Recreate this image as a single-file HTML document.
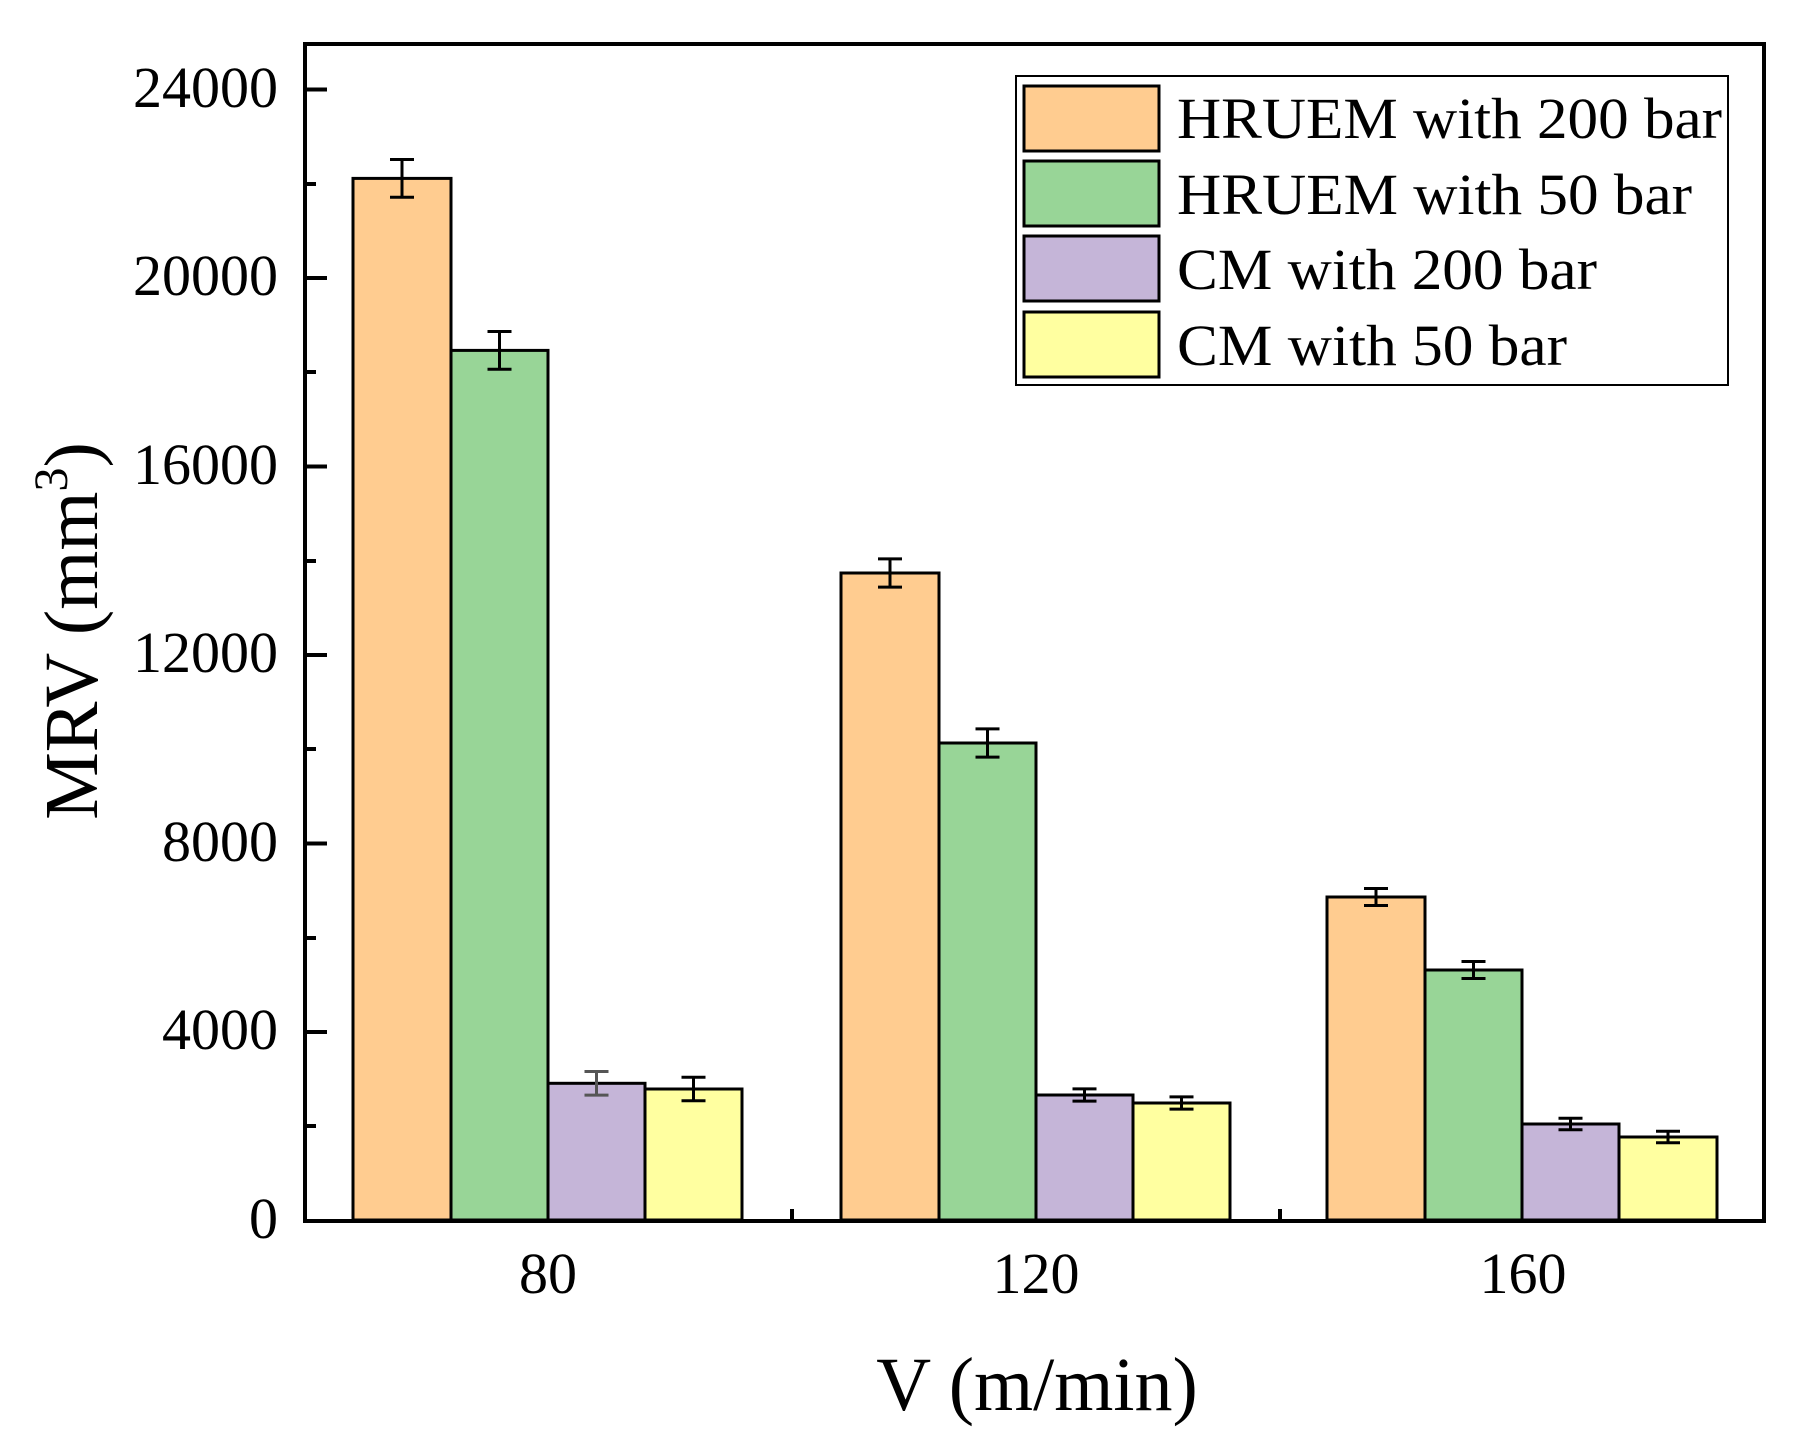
<!DOCTYPE html>
<html><head><meta charset="utf-8"><style>
html,body{margin:0;padding:0;background:#fff;}
svg{display:block;}
text{font-family:"Liberation Serif",serif;fill:#000;}
</style></head><body>
<svg width="1817" height="1449" viewBox="0 0 1817 1449" xmlns="http://www.w3.org/2000/svg">
<rect width="1817" height="1449" fill="#fff"/>
<g stroke="#000" stroke-width="3">
<!-- group 80 -->
<rect x="353" y="178.4" width="98" height="1041.6" fill="#FFCC90"/>
<rect x="451" y="350.4" width="97" height="869.6" fill="#98D597"/>
<rect x="548" y="1083.3" width="97" height="136.7" fill="#C5B5D8"/>
<rect x="645" y="1089" width="97" height="131" fill="#FFFFA0"/>
<!-- group 120 -->
<rect x="841" y="573" width="98" height="647" fill="#FFCC90"/>
<rect x="939" y="743" width="97" height="477" fill="#98D597"/>
<rect x="1036" y="1095" width="97" height="125" fill="#C5B5D8"/>
<rect x="1133" y="1103" width="97" height="117" fill="#FFFFA0"/>
<!-- group 160 -->
<rect x="1327" y="897" width="98" height="323" fill="#FFCC90"/>
<rect x="1425" y="970" width="97" height="250" fill="#98D597"/>
<rect x="1522" y="1124" width="97" height="96" fill="#C5B5D8"/>
<rect x="1619" y="1137" width="98" height="83" fill="#FFFFA0"/>
</g>
<g stroke="#000" stroke-width="3" fill="none">
<path d="M402 159.5V197.3M390 159.5H414M390 197.3H414"/>
<path d="M499.5 331.5V369.3M487.5 331.5H511.5M487.5 369.3H511.5"/>
<path d="M596.5 1071.5V1095.1M584.5 1071.5H608.5M584.5 1095.1H608.5" stroke="#555"/>
<path d="M693.5 1077.2V1100.8M681.5 1077.2H705.5M681.5 1100.8H705.5"/>
<path d="M890 558.9V587.1M878 558.9H902M878 587.1H902"/>
<path d="M987.5 728.9V757.1M975.5 728.9H999.5M975.5 757.1H999.5"/>
<path d="M1084.5 1088.9V1101.1M1072.5 1088.9H1096.5M1072.5 1101.1H1096.5"/>
<path d="M1181.5 1096.9V1109.1M1169.5 1096.9H1193.5M1169.5 1109.1H1193.5"/>
<path d="M1376 888.5V905.5M1364 888.5H1388M1364 905.5H1388"/>
<path d="M1473.5 961.5V978.5M1461.5 961.5H1485.5M1461.5 978.5H1485.5"/>
<path d="M1570.5 1118.3V1129.7M1558.5 1118.3H1582.5M1558.5 1129.7H1582.5"/>
<path d="M1668 1131.3V1142.7M1656 1131.3H1680M1656 1142.7H1680"/>
</g>
<!-- frame -->
<rect x="305" y="44" width="1459" height="1177" fill="none" stroke="#000" stroke-width="4"/>
<g stroke="#000" stroke-width="4">
<path d="M305 89.5H327M305 278H327M305 466.5H327M305 655H327M305 843.5H327M305 1032H327"/>
<path d="M305 184H316M305 372H316M305 561H316M305 749H316M305 938H316M305 1126H316"/>
<path d="M792 1221V1209M1280 1221V1209"/>
</g>
<g font-size="58" text-anchor="end">
<text x="278" y="107">24000</text>
<text x="278" y="295">20000</text>
<text x="278" y="484">16000</text>
<text x="278" y="672">12000</text>
<text x="278" y="861">8000</text>
<text x="278" y="1049">4000</text>
<text x="278" y="1238">0</text>
</g>
<g font-size="58" text-anchor="middle">
<text x="548" y="1293">80</text>
<text x="1036" y="1293">120</text>
<text x="1523" y="1293">160</text>
</g>
<text x="1037" y="1410" font-size="76" text-anchor="middle">V (m/min)</text>
<text transform="translate(97,631) rotate(-90)" font-size="76" text-anchor="middle">MRV (mm<tspan font-size="48" dy="-30">3</tspan><tspan dy="30">)</tspan></text>
<!-- legend -->
<rect x="1016" y="76" width="712" height="309" fill="#fff" stroke="#000" stroke-width="2"/>
<g stroke="#000" stroke-width="3">
<rect x="1024" y="86" width="135" height="65" fill="#FFCC90"/>
<rect x="1024" y="161" width="135" height="65" fill="#98D597"/>
<rect x="1024" y="236" width="135" height="65" fill="#C5B5D8"/>
<rect x="1024" y="312" width="135" height="65" fill="#FFFFA0"/>
</g>
<g font-size="58">
<text x="1177" y="138" textLength="545" lengthAdjust="spacingAndGlyphs">HRUEM with 200 bar</text>
<text x="1177" y="214" textLength="515" lengthAdjust="spacingAndGlyphs">HRUEM with 50 bar</text>
<text x="1177" y="289" textLength="420" lengthAdjust="spacingAndGlyphs">CM with 200 bar</text>
<text x="1177" y="365" textLength="390" lengthAdjust="spacingAndGlyphs">CM with 50 bar</text>
</g>
</svg>
</body></html>
